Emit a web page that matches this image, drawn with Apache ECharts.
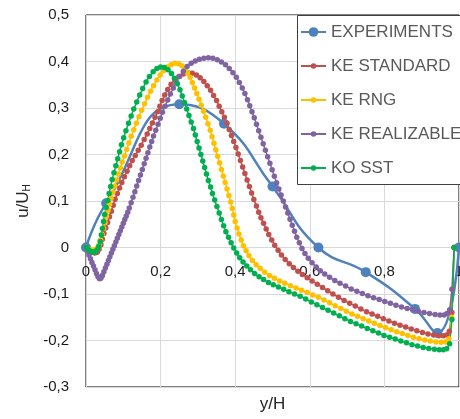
<!DOCTYPE html>
<html><head><meta charset="utf-8">
<script src="https://cdn.jsdelivr.net/npm/echarts@6/dist/echarts.min.js"></script>
<style>html,body{margin:0;padding:0;background:#fff}#c{width:460px;height:419px}</style>
</head><body><div id="c"></div>
<script>
const seriesNames = ['EXPERIMENTS', 'KE STANDARD', 'KE RNG', 'KE REALIZABLE', 'KO SST'];
const seriesColors = ['#4F81BD', '#C0504D', '#FFC000', '#8064A2', '#00B050'];

const experiments = [[0,0],[0.054,0.095],[0.25,0.308],[0.37,0.266],[0.5,0.131],[0.623,0.0],[0.75,-0.053],[0.882,-0.132],[0.942,-0.184],[1.0,0.0]];

const keStandard = [[0,0],[0.006,-0.004],[0.012,-0.008],[0.018,-0.011],[0.024,-0.012],[0.030,-0.010],[0.035,-0.004],[0.040,0.006],[0.044,0.018],[0.048,0.030],[0.053,0.042],[0.058,0.054],[0.063,0.066],[0.068,0.078],[0.073,0.091],[0.078,0.104],[0.084,0.116],[0.090,0.128],[0.096,0.140],[0.103,0.152],[0.110,0.164],[0.117,0.176],[0.124,0.187],[0.132,0.198],[0.140,0.209],[0.148,0.220],[0.156,0.232],[0.164,0.244],[0.171,0.256],[0.178,0.268],[0.185,0.280],[0.192,0.292],[0.198,0.304],[0.204,0.316],[0.211,0.328],[0.219,0.340],[0.228,0.351],[0.238,0.361],[0.249,0.368],[0.261,0.373],[0.273,0.376],[0.285,0.375],[0.296,0.371],[0.306,0.365],[0.316,0.357],[0.325,0.348],[0.334,0.338],[0.342,0.327],[0.350,0.316],[0.357,0.304],[0.364,0.292],[0.371,0.280],[0.378,0.267],[0.384,0.254],[0.390,0.241],[0.396,0.228],[0.402,0.215],[0.408,0.201],[0.414,0.187],[0.420,0.173],[0.426,0.159],[0.432,0.145],[0.438,0.131],[0.444,0.117],[0.450,0.103],[0.457,0.089],[0.463,0.076],[0.469,0.064],[0.476,0.052],[0.483,0.040],[0.490,0.028],[0.498,0.016],[0.506,0.005],[0.515,-0.006],[0.524,-0.016],[0.534,-0.026],[0.545,-0.035],[0.556,-0.043],[0.568,-0.051],[0.580,-0.058],[0.593,-0.065],[0.606,-0.072],[0.620,-0.079],[0.634,-0.086],[0.648,-0.093],[0.662,-0.100],[0.677,-0.107],[0.692,-0.114],[0.707,-0.120],[0.722,-0.126],[0.737,-0.132],[0.752,-0.138],[0.767,-0.143],[0.782,-0.148],[0.797,-0.153],[0.812,-0.158],[0.827,-0.163],[0.842,-0.167],[0.857,-0.171],[0.872,-0.175],[0.887,-0.179],[0.902,-0.183],[0.917,-0.186],[0.932,-0.188],[0.946,-0.190],[0.958,-0.190],[0.967,-0.188],[0.974,-0.180],[0.981,-0.140],[0.987,0.0]];

const keRng = [[0,0],[0.006,-0.003],[0.012,-0.005],[0.018,-0.006],[0.024,-0.005],[0.030,-0.001],[0.035,0.006],[0.039,0.016],[0.043,0.028],[0.047,0.041],[0.051,0.054],[0.055,0.067],[0.059,0.080],[0.063,0.093],[0.067,0.106],[0.072,0.119],[0.077,0.132],[0.082,0.145],[0.087,0.158],[0.092,0.171],[0.097,0.184],[0.103,0.197],[0.109,0.211],[0.115,0.225],[0.121,0.239],[0.128,0.253],[0.135,0.267],[0.142,0.281],[0.149,0.295],[0.157,0.309],[0.165,0.323],[0.173,0.336],[0.181,0.348],[0.190,0.360],[0.199,0.371],[0.208,0.380],[0.218,0.388],[0.228,0.393],[0.238,0.396],[0.248,0.395],[0.257,0.391],[0.265,0.384],[0.272,0.376],[0.279,0.366],[0.285,0.355],[0.291,0.343],[0.297,0.331],[0.303,0.319],[0.309,0.306],[0.315,0.293],[0.321,0.280],[0.327,0.266],[0.333,0.252],[0.338,0.238],[0.343,0.224],[0.348,0.210],[0.353,0.196],[0.358,0.182],[0.363,0.168],[0.368,0.154],[0.373,0.140],[0.378,0.126],[0.383,0.112],[0.388,0.098],[0.392,0.084],[0.396,0.070],[0.400,0.056],[0.405,0.042],[0.410,0.029],[0.416,0.016],[0.422,0.004],[0.429,-0.007],[0.437,-0.018],[0.446,-0.028],[0.456,-0.037],[0.467,-0.045],[0.479,-0.053],[0.492,-0.060],[0.505,-0.066],[0.519,-0.072],[0.533,-0.077],[0.548,-0.082],[0.563,-0.087],[0.578,-0.092],[0.593,-0.097],[0.608,-0.102],[0.623,-0.107],[0.638,-0.113],[0.653,-0.119],[0.668,-0.125],[0.683,-0.131],[0.698,-0.137],[0.713,-0.143],[0.728,-0.148],[0.743,-0.153],[0.758,-0.158],[0.773,-0.163],[0.788,-0.168],[0.803,-0.172],[0.818,-0.177],[0.833,-0.181],[0.848,-0.185],[0.863,-0.189],[0.878,-0.193],[0.893,-0.196],[0.908,-0.199],[0.923,-0.201],[0.938,-0.203],[0.952,-0.204],[0.964,-0.203],[0.973,-0.196],[0.980,-0.150],[0.987,0.0]];

const keRealizable = [[0,0],[0.004,-0.008],[0.008,-0.016],[0.012,-0.024],[0.016,-0.032],[0.020,-0.040],[0.024,-0.048],[0.028,-0.056],[0.032,-0.063],[0.036,-0.067],[0.040,-0.066],[0.044,-0.060],[0.048,-0.052],[0.052,-0.044],[0.056,-0.036],[0.060,-0.028],[0.064,-0.020],[0.068,-0.012],[0.072,-0.004],[0.076,0.004],[0.080,0.012],[0.084,0.020],[0.088,0.028],[0.092,0.036],[0.096,0.044],[0.100,0.052],[0.104,0.060],[0.108,0.068],[0.112,0.076],[0.116,0.085],[0.121,0.096],[0.126,0.108],[0.131,0.120],[0.136,0.132],[0.141,0.144],[0.146,0.156],[0.151,0.168],[0.156,0.180],[0.161,0.192],[0.166,0.204],[0.171,0.216],[0.176,0.228],[0.181,0.240],[0.187,0.252],[0.193,0.265],[0.199,0.278],[0.205,0.291],[0.212,0.304],[0.219,0.317],[0.226,0.330],[0.234,0.343],[0.242,0.356],[0.251,0.368],[0.261,0.379],[0.271,0.389],[0.282,0.396],[0.293,0.401],[0.304,0.405],[0.316,0.407],[0.328,0.408],[0.340,0.407],[0.352,0.404],[0.363,0.399],[0.374,0.393],[0.384,0.385],[0.394,0.376],[0.403,0.366],[0.411,0.355],[0.419,0.343],[0.426,0.331],[0.433,0.318],[0.439,0.305],[0.445,0.292],[0.451,0.279],[0.457,0.265],[0.463,0.251],[0.469,0.237],[0.475,0.223],[0.481,0.209],[0.487,0.195],[0.493,0.181],[0.499,0.167],[0.505,0.153],[0.511,0.139],[0.517,0.126],[0.523,0.113],[0.529,0.100],[0.535,0.087],[0.541,0.074],[0.547,0.061],[0.553,0.048],[0.559,0.035],[0.565,0.022],[0.572,0.010],[0.579,-0.002],[0.587,-0.013],[0.596,-0.023],[0.606,-0.033],[0.617,-0.042],[0.628,-0.050],[0.640,-0.057],[0.653,-0.064],[0.667,-0.071],[0.681,-0.077],[0.696,-0.083],[0.711,-0.089],[0.726,-0.094],[0.741,-0.099],[0.756,-0.104],[0.771,-0.108],[0.786,-0.112],[0.801,-0.116],[0.816,-0.120],[0.831,-0.124],[0.846,-0.128],[0.861,-0.131],[0.876,-0.134],[0.891,-0.137],[0.906,-0.140],[0.921,-0.142],[0.936,-0.144],[0.949,-0.145],[0.960,-0.145],[0.968,-0.142],[0.975,-0.134],[0.981,-0.090],[0.987,0.0]];

const koSst = [[0,0],[0.005,-0.004],[0.010,-0.007],[0.015,-0.009],[0.020,-0.010],[0.025,-0.009],[0.030,-0.005],[0.034,0.002],[0.038,0.013],[0.041,0.027],[0.044,0.041],[0.047,0.056],[0.050,0.071],[0.054,0.086],[0.058,0.101],[0.062,0.116],[0.066,0.131],[0.070,0.146],[0.075,0.161],[0.080,0.176],[0.085,0.191],[0.090,0.206],[0.095,0.221],[0.101,0.236],[0.107,0.251],[0.114,0.267],[0.121,0.283],[0.128,0.298],[0.136,0.313],[0.144,0.328],[0.152,0.342],[0.161,0.356],[0.170,0.368],[0.180,0.378],[0.190,0.385],[0.200,0.388],[0.210,0.387],[0.220,0.382],[0.229,0.374],[0.237,0.364],[0.245,0.352],[0.252,0.339],[0.258,0.326],[0.264,0.312],[0.270,0.298],[0.276,0.284],[0.282,0.270],[0.288,0.256],[0.293,0.242],[0.298,0.228],[0.303,0.214],[0.308,0.200],[0.313,0.186],[0.318,0.172],[0.323,0.158],[0.328,0.144],[0.334,0.130],[0.339,0.116],[0.345,0.102],[0.351,0.088],[0.357,0.074],[0.363,0.060],[0.369,0.047],[0.375,0.034],[0.382,0.022],[0.389,0.010],[0.396,-0.001],[0.404,-0.012],[0.412,-0.022],[0.421,-0.031],[0.431,-0.040],[0.441,-0.048],[0.452,-0.056],[0.464,-0.063],[0.476,-0.069],[0.489,-0.075],[0.502,-0.080],[0.516,-0.085],[0.530,-0.090],[0.544,-0.095],[0.559,-0.100],[0.574,-0.105],[0.589,-0.111],[0.604,-0.117],[0.619,-0.123],[0.634,-0.129],[0.649,-0.135],[0.664,-0.141],[0.679,-0.147],[0.694,-0.153],[0.709,-0.159],[0.724,-0.164],[0.739,-0.169],[0.754,-0.174],[0.769,-0.179],[0.784,-0.184],[0.799,-0.189],[0.814,-0.193],[0.829,-0.197],[0.844,-0.201],[0.859,-0.205],[0.874,-0.209],[0.889,-0.212],[0.904,-0.215],[0.919,-0.217],[0.934,-0.219],[0.947,-0.220],[0.958,-0.220],[0.967,-0.218],[0.975,-0.207],[0.981,-0.155],[0.987,0.0]];

const allData = [experiments, keStandard, keRng, keRealizable, koSst];
const fmt = v => String(Math.round(v * 10) / 10).replace('.', ',');

const chart = echarts.init(document.getElementById('c'), null, { renderer: 'canvas' });

const series = seriesNames.map((name, i) => ({
  name: name,
  type: 'line',
  data: allData[i],
  smooth: i === 0 ? 0.5 : false,
  symbol: 'circle',
  symbolSize: i === 0 ? 10 : 5.5,
  showSymbol: true,
  lineStyle: { width: i === 0 ? 2.5 : 1.5, color: seriesColors[i] },
  itemStyle: { color: seriesColors[i] },
  emphasis: { disabled: true },
  z: 2
}));

chart.setOption({
  animation: false,
  backgroundColor: '#fff',
  textStyle: { fontFamily: 'Liberation Sans, Arial, sans-serif' },
  grid: { left: 86, right: 1, top: 15, bottom: 32, show: true, borderColor: '#000', borderWidth: 1, containLabel: false, outerBoundsMode: 'none' },
  xAxis: {
    type: 'value', min: 0, max: 1, interval: 0.2,
    position: 'bottom', offset: -139.5,
    name: 'y/H', nameLocation: 'middle', nameGap: 148,
    nameTextStyle: { fontSize: 17, color: '#262626' },
    axisLine: { show: true, onZero: false, lineStyle: { color: '#d9d9d9', width: 1 } },
    axisTick: { show: false },
    axisLabel: { formatter: fmt, color: '#1a1a1a', fontSize: 15, margin: 17 },
    splitLine: { show: true, lineStyle: { color: '#d9d9d9', width: 1 } }
  },
  yAxis: {
    type: 'value', min: -0.3, max: 0.5, interval: 0.1,
    name: '{a|u/U}{b|H}', nameLocation: 'middle', nameGap: 50, nameRotate: 90,
    nameTextStyle: { rich: { a: { fontSize: 17, color: '#262626', fontFamily: 'Liberation Sans' }, b: { fontSize: 10, color: '#262626', verticalAlign: 'bottom', fontFamily: 'Liberation Sans' } } },
    axisLine: { show: false, onZero: false },
    axisTick: { show: false },
    axisLabel: { formatter: fmt, color: '#1a1a1a', fontSize: 15, margin: 17 },
    splitLine: { show: true, lineStyle: { color: '#d9d9d9', width: 1 } }
  },
  graphic: [{
    type: 'rect', z: 3,
    shape: { x: 297.5, y: 15.5, width: 175, height: 169 },
    style: { fill: '#fff', stroke: '#404040', lineWidth: 1 }
  }],
  legend: [{
    data: [seriesNames[0]], orient: 'vertical', left: 300, top: 22, padding: 0,
    itemWidth: 25, itemHeight: 12,
    textStyle: { fontSize: 17, color: '#595959', lineHeight: 20, fontFamily: 'Liberation Sans' },
    selectedMode: false
  }, {
    data: seriesNames.slice(1), orient: 'vertical', left: 300, top: 56, padding: 0,
    itemWidth: 25, itemHeight: 7, itemGap: 14,
    textStyle: { fontSize: 17, color: '#595959', lineHeight: 20, fontFamily: 'Liberation Sans' },
    selectedMode: false
  }],
  series: series
});
</script>
</body></html>
